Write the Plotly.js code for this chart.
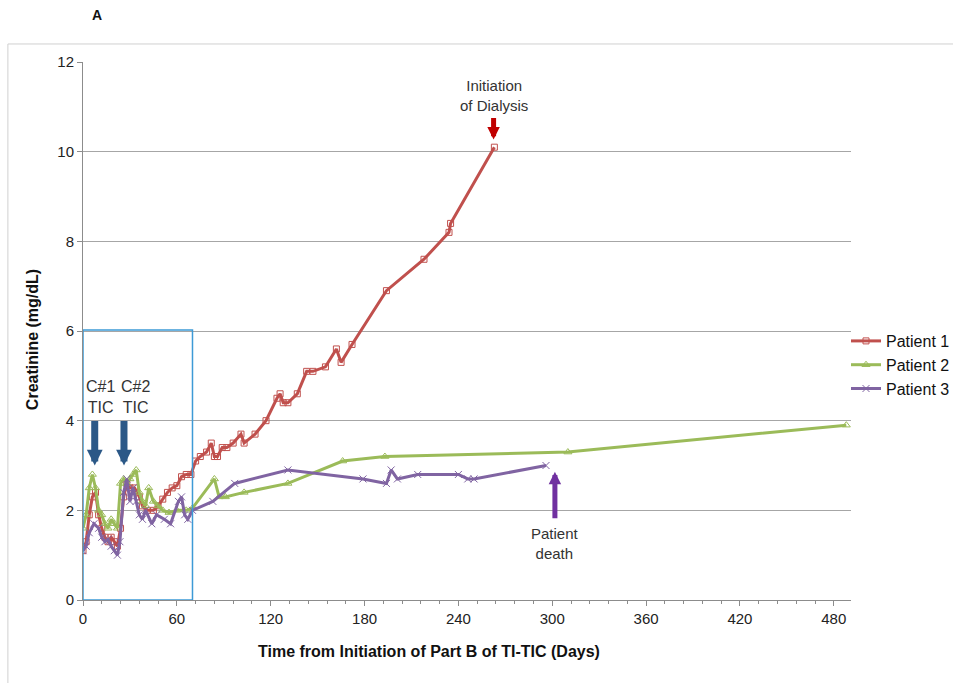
<!DOCTYPE html>
<html>
<head>
<meta charset="utf-8">
<script src="https://cdn.plot.ly/plotly-3.0.1.min.js"></script>
<style>html,body{margin:0;padding:0;background:#fff;}#chart{width:953px;height:683px;}</style>
</head>
<body>
<div id="chart"></div>
<script>
// Patient 1
var p1Days = [0,2,4,6,8,10,12,14,16,18,20,22,24,26,28,30,33,36,38,41,45,48,51,54,57,60,63,66,69,72,75,79,82,84,86,89,92,96,101,103,110,117,124,126,128,131,137,143,147,155,162,165,172,194,218,234,235,263];
var p1Cr   = [1.1,1.3,1.9,2.3,2.4,1.9,1.6,1.4,1.3,1.4,1.3,1.2,1.6,2.3,2.6,2.5,2.5,2.3,2.1,2.0,2.0,2.1,2.25,2.4,2.5,2.55,2.75,2.8,2.8,3.1,3.2,3.3,3.5,3.2,3.2,3.4,3.4,3.5,3.7,3.5,3.7,4.0,4.5,4.6,4.4,4.4,4.6,5.1,5.1,5.2,5.6,5.3,5.7,6.9,7.6,8.2,8.4,10.1];
// Patient 2
var p2Days = [0,2,4,6,8,10,12,14,16,18,20,22,24,26,28,30,32,34,36,38,40,42,45,48,51,55,60,66,70,84,87,91,103,131,166,193,310,488];
var p2Cr   = [1.6,1.9,2.5,2.8,2.5,2.0,1.9,1.7,1.6,1.8,1.7,1.6,2.6,2.7,2.6,2.7,2.8,2.9,2.4,2.2,2.1,2.5,2.2,2.1,2.0,1.95,2.0,2.0,2.05,2.7,2.3,2.3,2.4,2.6,3.1,3.2,3.3,3.9];
// Patient 3
var p3Days = [0,2,4,7,10,12,14,16,18,20,22,23.6,26,28,30,32,34,36,38,40,44,47,52,56,61,63,65,67,70,83,97,131,179,194,197,201,214,240,246,250,296];
var p3Cr   = [1.1,1.2,1.5,1.7,1.6,1.4,1.3,1.35,1.2,1.1,1.0,1.3,2.4,2.7,2.2,2.5,2.2,1.9,1.8,2.0,1.7,1.9,1.8,1.7,2.2,2.3,1.9,1.8,2.0,2.2,2.6,2.9,2.7,2.6,2.9,2.7,2.8,2.8,2.7,2.7,3.0];

var seriesNames = ['Patient 1','Patient 2','Patient 3'];
var xTicks = [0,60,120,180,240,300,360,420,480];
var yTicks = [0,2,4,6,8,10,12];

var FONT = 'Arial, "Liberation Sans", sans-serif';

var traces = [
  {x:p1Days, y:p1Cr, name:seriesNames[0], type:'scatter', mode:'lines+markers',
   line:{color:'#C0504D', width:3}, marker:{symbol:'square-open', size:6, color:'#C0504D', line:{width:1}}},
  {x:p2Days, y:p2Cr, name:seriesNames[1], type:'scatter', mode:'lines+markers',
   line:{color:'#9BBB59', width:3}, marker:{symbol:'triangle-up-open', size:7, color:'#9BBB59', line:{width:1}}},
  {x:p3Days, y:p3Cr, name:seriesNames[2], type:'scatter', mode:'lines+markers',
   line:{color:'#8064A2', width:3}, marker:{symbol:'x-thin-open', size:7, color:'#8064A2', line:{width:1, color:'#8064A2'}}}
];

var layout = {
  width:953, height:683,
  margin:{l:83, r:102, t:62, b:83, autoexpand:false},
  paper_bgcolor:'#fff', plot_bgcolor:'#fff',
  font:{family:FONT, size:15, color:'#222'},
  showlegend:true,
  legend:{x:0.9935, y:0.513, xanchor:'left', yanchor:'top', font:{family:FONT, size:16, color:'#111'},
          bgcolor:'rgba(0,0,0,0)', tracegroupgap:0, itemwidth:30},
  xaxis:{range:[0,491], tickvals:xTicks, ticktext:xTicks.map(String), showgrid:false, zeroline:false,
         showline:true, linecolor:'#8c8c8c', linewidth:1, ticks:'outside', ticklen:5, tickcolor:'#8c8c8c',
         minor:{dtick:12, tick0:0, ticks:'outside', ticklen:3, tickcolor:'#8c8c8c'},
         tickfont:{family:FONT, size:15, color:'#222'}},
  yaxis:{range:[0,12], tickvals:yTicks, ticktext:yTicks.map(String), showgrid:true, gridcolor:'#a6a6a6', gridwidth:1,
         zeroline:false, showline:true, linecolor:'#8c8c8c', linewidth:1, ticks:'outside', ticklen:5, tickcolor:'#8c8c8c',
         tickfont:{family:FONT, size:15, color:'#222'}},
  shapes:[
    {type:'rect', xref:'x', yref:'y', x0:0, x1:70, y0:0, y1:6.02, line:{color:'#3d9ad6', width:1.5}, fillcolor:'rgba(0,0,0,0)'},
    {type:'line', xref:'paper', yref:'paper', x0:-0.0978, x1:-0.0978, y0:1.0335, y1:-0.16, line:{color:'#d0d0d0', width:1}},
    {type:'line', xref:'paper', yref:'paper', x0:-0.0978, x1:1.14, y0:1.0335, y1:1.0335, line:{color:'#d0d0d0', width:1}}
  ],
  annotations:[
    {xref:'paper', yref:'paper', x:0.018, y:1.087, xanchor:'center', yanchor:'middle', text:'<b>A</b>', showarrow:false, font:{family:FONT, size:14, color:'#111'}},
    {xref:'paper', yref:'paper', x:0.451, y:-0.095, xanchor:'center', yanchor:'middle', text:'<b>Time from Initiation of Part B of TI-TIC (Days)</b>', showarrow:false, font:{family:FONT, size:16, color:'#111'}},
    {xref:'paper', yref:'paper', x:-0.0664, y:0.483, xanchor:'center', yanchor:'middle', textangle:-90, text:'<b>Creatinine (mg/dL)</b>', showarrow:false, font:{family:FONT, size:16, color:'#111'}},
    {xref:'x', yref:'y', x:11.5, y:4.53, text:'C#1<br>TIC', showarrow:false, font:{family:FONT, size:16, color:'#333'}, align:'center'},
    {xref:'x', yref:'y', x:33.5, y:4.53, text:'C#2<br>TIC', showarrow:false, font:{family:FONT, size:16, color:'#333'}, align:'center'},
    {xref:'x', yref:'y', x:263, y:11.26, text:'Initiation<br>of Dialysis', showarrow:false, font:{family:FONT, size:15, color:'#333'}, align:'center'},
    {xref:'x', yref:'y', x:302, y:1.26, text:'Patient<br>death', showarrow:false, font:{family:FONT, size:15, color:'#333'}, align:'center'},
    {xref:'x', yref:'y', x:7.5, y:3.0, ax:0, ay:-46, text:'', showarrow:true, arrowhead:2, arrowsize:0.45, arrowwidth:7, arrowcolor:'#2B5887', standoff:0},
    {xref:'x', yref:'y', x:26.2, y:3.0, ax:0, ay:-46, text:'', showarrow:true, arrowhead:2, arrowsize:0.45, arrowwidth:7, arrowcolor:'#2B5887', standoff:0},
    {xref:'x', yref:'y', x:262.5, y:10.27, ax:0, ay:-23, text:'', showarrow:true, arrowhead:2, arrowsize:0.5, arrowwidth:5, arrowcolor:'#C00000', standoff:0},
    {xref:'x', yref:'y', x:301.7, y:2.86, ax:0, ay:48, text:'', showarrow:true, arrowhead:2, arrowsize:0.5, arrowwidth:5, arrowcolor:'#7030A0', standoff:0}
  ]
};

Plotly.newPlot('chart', traces, layout, {displayModeBar:false, staticPlot:true});
</script>
</body>
</html>
